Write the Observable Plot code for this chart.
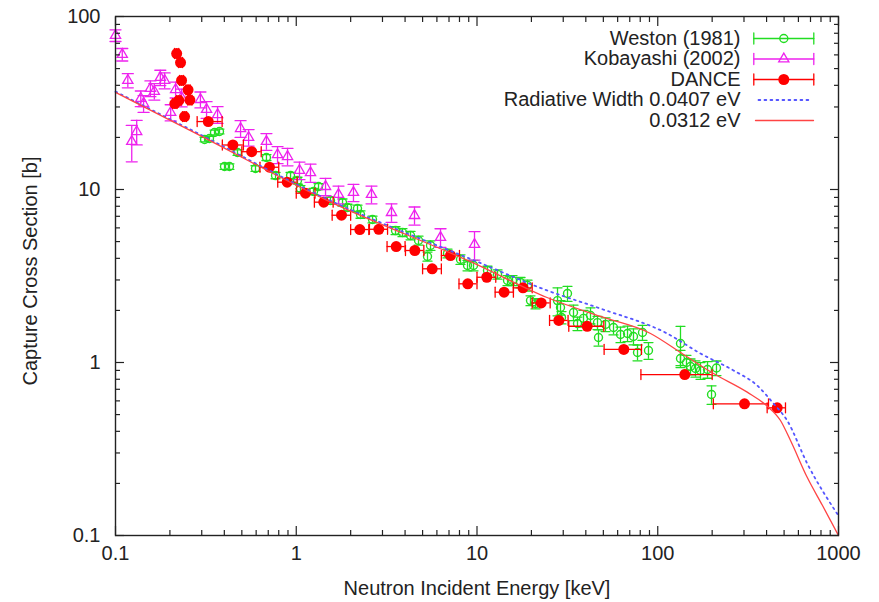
<!DOCTYPE html>
<html>
<head>
<meta charset="utf-8">
<script src="https://cdn.jsdelivr.net/npm/d3@7"></script>
<script src="https://cdn.jsdelivr.net/npm/@observablehq/plot@0.6"></script>
<style>
  html, body { margin: 0; padding: 0; background: #fff; }
  #chart { width: 879px; height: 602px; }
</style>
</head>
<body>
<div id="chart"></div>
<script>
// Axis ticks and labels
const xTickValues = [0.1, 1, 10, 100, 1000];
const xTickLabels = ["0.1", "1", "10", "100", "1000"];
const yTickValues = [0.1, 1, 10, 100];
const yTickLabels = ["0.1", "1", "10", "100"];
const xTitle = "Neutron Incident Energy [keV]";
const yTitle = "Capture Cross Section [b]";

// Weston (1981): energy [keV], cross section [b], 1-sigma error [b]
const westonE = [0.311, 0.331, 0.353, 0.376, 0.401, 0.427, 0.473, 0.595, 0.684, 0.768,
  0.930, 1.016, 1.055, 1.246, 1.328, 1.547, 1.803, 1.921, 2.182, 2.267,
  2.642, 3.541, 3.870, 4.287, 4.747, 5.323, 5.530, 6.867, 8.103, 8.861,
  9.564, 11.43, 12.99, 14.75, 15.72, 17.41, 19.03, 19.77, 21.07, 27.89,
  28.97, 29.34, 31.67, 34.19, 35.97, 38.84, 42.46, 46.42, 47.01, 51.39,
  56.92, 62.23, 68.03, 73.4, 77.27, 82.33, 88.86, 133.6, 133.6, 144.2,
  151.8, 161.8, 172.4, 188.5, 198.4, 211.3];
const westonS = [19.45, 19.71, 21.36, 21.64, 13.58, 13.58, 16.36, 13.22, 15.31, 12.04,
  12.04, 11.27, 10.13, 9.74, 10.40, 8.64, 8.41, 7.87, 7.77, 7.17,
  6.71, 5.79, 5.64, 5.42, 5.07, 4.10, 4.75, 4.27, 3.94, 3.64,
  3.64, 3.40, 3.23, 2.98, 2.98, 2.90, 2.79, 2.28, 2.19, 2.28,
  2.08, 1.82, 2.505, 1.945, 1.68, 1.80, 1.87, 1.70, 1.395, 1.66,
  1.594, 1.452, 1.471, 1.413, 1.142, 1.491, 1.173, 1.288, 1.055, 1.0,
  0.948, 0.923, 0.899, 0.911, 0.653, 0.93];
const westonErr = [0.6, 0.6, 0.7, 0.7, 0.5, 0.5, 0.6, 0.5, 0.6, 0.5,
  0.5, 0.5, 0.4, 0.4, 0.4, 0.4, 0.4, 0.35, 0.35, 0.35,
  0.3, 0.3, 0.3, 0.3, 0.3, 0.25, 0.3, 0.25, 0.25, 0.25,
  0.25, 0.2, 0.2, 0.2, 0.2, 0.2, 0.2, 0.15, 0.15, 0.42,
  0.2, 0.15, 0.25, 0.2, 0.15, 0.2, 0.2, 0.15, 0.15, 0.15,
  0.15, 0.15, 0.15, 0.15, 0.12, 0.15, 0.13, 0.33, 0.12, 0.1,
  0.1, 0.1, 0.1, 0.1, 0.08, 0.09];

// Kobayashi (2002)
const kobE = [0.1, 0.109, 0.117, 0.123, 0.131, 0.138, 0.143, 0.156, 0.164, 0.177,
  0.187, 0.202, 0.215, 0.232, 0.295, 0.319, 0.367, 0.492, 0.545, 0.684,
  0.788, 0.895, 1.042, 1.199, 1.452, 1.713, 2.073, 2.608, 3.365, 4.511,
  6.283, 9.688];
const kobS = [77.7, 60.3, 42.7, 18.95, 21.6, 33.6, 31.4, 38.4, 36.9, 44.4,
  42.7, 27.9, 37.8, 34.0, 33.1, 29.0, 27.1, 22.5, 20.0, 18.95,
  15.9, 15.5, 12.9, 12.5, 10.4, 9.36, 9.61, 9.36, 7.36, 7.07,
  5.28, 4.81];
const kobErr = [6, 5, 4, 4.5, 3.5, 3.5, 3.5, 4, 4, 4.5,
  4.5, 3, 4, 4, 3.5, 3.2, 3, 2.5, 2.2, 2.1,
  1.8, 1.8, 1.5, 1.5, 1.2, 1.1, 1.1, 1.1, 0.9, 0.85,
  0.65, 0.9];

// DANCE: energy, cross section, energy-bin edges
const danceE = [0.213, 0.218, 0.224, 0.229, 0.232, 0.241, 0.252, 0.258, 0.326, 0.446,
  0.567, 0.711, 0.891, 1.125, 1.42, 1.78, 2.247, 2.862, 3.573, 4.529,
  5.65, 7.135, 8.89, 11.33, 14.12, 17.97, 22.66, 28.36, 40.7, 64.9,
  141.1, 302, 458];
const danceS = [31.4, 61.1, 32.7, 54.2, 42.7, 26.4, 37.7, 32.9, 24.7, 18.08,
  16.54, 13.45, 11.02, 9.52, 8.45, 7.10, 5.87, 5.89, 4.68, 4.44,
  3.48, 4.155, 2.85, 3.11, 2.55, 2.70, 2.21, 1.75, 1.62, 1.19,
  0.852, 0.577, 0.547];
const danceLo = [0.207, 0.212, 0.218, 0.223, 0.226, 0.235, 0.245, 0.251, 0.283, 0.39,
  0.50, 0.63, 0.79, 1.0, 1.26, 1.58, 2.0, 2.54, 3.18, 4.02,
  5.0, 6.35, 7.95, 10.0, 12.6, 15.9, 20.2, 25.2, 32.2, 50.5,
  80.7, 203, 403];
const danceHi = [0.219, 0.224, 0.230, 0.235, 0.238, 0.247, 0.259, 0.265, 0.389, 0.51,
  0.64, 0.80, 1.01, 1.27, 1.60, 2.0, 2.52, 3.2, 4.0, 5.08,
  6.35, 8.0, 10.0, 12.7, 15.9, 20.2, 25.4, 31.9, 50.3, 81.3,
  200, 410, 509];

// Calculated capture cross sections for two radiative widths
const calcWideE = [0.1, 0.26, 1.55, 10, 24.4, 48.2, 112.8, 172.4, 262.4, 354.8, 436.5, 520, 671, 1000];
const calcWideS = [36.8, 22.2, 8.6, 3.83, 2.61, 2.05, 1.47, 1.127, 0.9, 0.736, 0.58, 0.462, 0.261, 0.13];
const calcNarrowE = [0.1, 0.26, 1.55, 10, 24.4, 48.2, 91.2, 138.8, 203.4, 312.6, 399.7, 477.5, 542.6, 671, 815.7, 1000];
const calcNarrowS = [36.4, 21.9, 8.45, 3.68, 2.375, 1.845, 1.471, 1.112, 0.864, 0.674, 0.564, 0.462, 0.354, 0.217, 0.149, 0.1];

const legendLabels = ["Weston (1981)", "Kobayashi (2002)", "DANCE", "Radiative Width 0.0407 eV", "0.0312 eV"];

// Styling
const INK = "#222";
const GREEN = "#22dd22";
const MAGENTA = "#ee22ee";
const RED = "#ff0000";
const BLUE = "#5555ff";
const LINE_RED = "#ff4444";
const FONT = "'Liberation Sans', Arial, Helvetica, sans-serif";

const weston = westonE.map((e, i) => ({e, s: westonS[i], lo: westonS[i] - westonErr[i], hi: westonS[i] + westonErr[i]}));
const kobayashi = kobE.map((e, i) => ({e, s: kobS[i], lo: kobS[i] - kobErr[i], hi: kobS[i] + kobErr[i]}));
const dance = danceE.map((e, i) => ({e, s: danceS[i], lo: danceLo[i], hi: danceHi[i]}));
const calcWide = calcWideE.map((e, i) => ({e, s: calcWideS[i]}));
const calcNarrow = calcNarrowE.map((e, i) => ({e, s: calcNarrowS[i]}));

const minorX = [0.1, 1, 10, 100].flatMap(d => [2, 3, 4, 5, 6, 7, 8, 9].map(k => k * d));
const minorY = [0.1, 1, 10].flatMap(d => [2, 3, 4, 5, 6, 7, 8, 9].map(k => k * d));

// plain straight segment used for error-bar caps and legend samples
const segment = {draw(context, l) { context.moveTo(0, 0); context.lineTo(0, -l); }};

// inward ticks on all four sides
function innerTicks(xs, ys, size) {
  const common = {fill: "none", label: null, stroke: INK, strokeWidth: 1.2};
  return [
    Plot.axisX(xs, {...common, anchor: "bottom", tickSize: size, dy: -size}),
    Plot.axisX(xs, {...common, anchor: "top", tickSize: size, dy: size}),
    Plot.axisY(ys, {...common, anchor: "left", tickSize: size, dx: size}),
    Plot.axisY(ys, {...common, anchor: "right", tickSize: size, dx: -size})
  ];
}

function vBars(data, color, capWidth) {
  return [
    Plot.ruleX(data, {x: "e", y1: "lo", y2: "hi", stroke: color, strokeWidth: 1.3}),
    Plot.vector(data, {x: "e", y: "lo", length: capWidth, rotate: 90, anchor: "middle", shape: segment, stroke: color, strokeWidth: 1.3}),
    Plot.vector(data, {x: "e", y: "hi", length: capWidth, rotate: 90, anchor: "middle", shape: segment, stroke: color, strokeWidth: 1.3})
  ];
}

// legend rows (anchored to the top-right corner of the frame)
const rowDy = i => 22 + 20.5 * i;
const textDx = -98, sampleDx = -54.7, capL = -84.7, capR = -24.7;
function legendRow(i, color, marker) {
  const dy = rowDy(i);
  const marks = [
    Plot.text([legendLabels[i]], {frameAnchor: "top-right", dx: textDx, dy, textAnchor: "end", lineAnchor: "middle", fill: INK, fontSize: 20})
  ];
  if (marker) {
    marks.push(
      Plot.vector([0], {frameAnchor: "top-right", dx: sampleDx, dy, length: 60, rotate: 90, anchor: "middle", shape: segment, stroke: color, strokeWidth: 1.3}),
      Plot.vector([0], {frameAnchor: "top-right", dx: capL, dy, length: 11, rotate: 0, anchor: "middle", shape: segment, stroke: color, strokeWidth: 1.3}),
      Plot.vector([0], {frameAnchor: "top-right", dx: capR, dy, length: 11, rotate: 0, anchor: "middle", shape: segment, stroke: color, strokeWidth: 1.3}),
      Plot.dot([0], {frameAnchor: "top-right", dx: sampleDx, dy, ...marker})
    );
  }
  return marks;
}

const chart = Plot.plot({
  width: 879,
  height: 602,
  marginLeft: 115,
  marginRight: 41,
  marginTop: 16,
  marginBottom: 67,
  x: {type: "log", domain: [0.1, 1000], label: null},
  y: {type: "log", domain: [0.1, 100], label: null},
  style: {fontFamily: FONT, fontSize: "20px", color: INK, background: "#fff", overflow: "visible"},
  marks: [
    // Weston
    ...vBars(weston, GREEN, 9),
    Plot.dot(weston, {x: "e", y: "s", r: 4, stroke: GREEN, strokeWidth: 1.4, fill: "none"}),
    // Kobayashi
    ...vBars(kobayashi, MAGENTA, 11),
    Plot.dot(kobayashi, {x: "e", y: "s", r: 3.8, symbol: "triangle", stroke: MAGENTA, strokeWidth: 1.3, fill: "none"}),
    // DANCE
    Plot.ruleY(dance, {y: "s", x1: "lo", x2: "hi", stroke: RED, strokeWidth: 1.3}),
    Plot.vector(dance, {x: "lo", y: "s", length: 10, rotate: 0, anchor: "middle", shape: segment, stroke: RED, strokeWidth: 1.3}),
    Plot.vector(dance, {x: "hi", y: "s", length: 10, rotate: 0, anchor: "middle", shape: segment, stroke: RED, strokeWidth: 1.3}),
    Plot.dot(dance, {x: "e", y: "s", r: 5.5, fill: RED}),
    // calculations
    Plot.line(calcWide, {x: "e", y: "s", stroke: BLUE, strokeWidth: 1.8, strokeDasharray: "1.8 4.2", curve: "monotone-x"}),
    Plot.line(calcNarrow, {x: "e", y: "s", stroke: LINE_RED, strokeWidth: 1.3, curve: "monotone-x"}),
    // frame and axes
    Plot.frame({stroke: INK, strokeWidth: 1.4}),
    ...innerTicks(xTickValues, yTickValues, 9),
    ...innerTicks(minorX, minorY, 5),
    Plot.axisX(xTickValues, {anchor: "bottom", tickSize: 0, tickPadding: 10, label: null, fill: INK, fontSize: 20,
      tickFormat: d => xTickLabels[xTickValues.indexOf(d)]}),
    Plot.axisY(yTickValues, {anchor: "left", tickSize: 0, tickPadding: 15, label: null, fill: INK, fontSize: 20,
      tickFormat: d => yTickLabels[yTickValues.indexOf(d)]}),
    Plot.text([xTitle], {frameAnchor: "bottom", dy: 53, textAnchor: "middle", lineAnchor: "middle", fill: INK, fontSize: 20}),
    Plot.text([yTitle], {frameAnchor: "left", dx: -85, dy: -5, rotate: -90, textAnchor: "middle", lineAnchor: "middle", fill: INK, fontSize: 20}),
    // legend
    ...legendRow(0, GREEN, {r: 4, stroke: GREEN, strokeWidth: 1.4, fill: "none"}),
    ...legendRow(1, MAGENTA, {r: 3.8, symbol: "triangle", stroke: MAGENTA, strokeWidth: 1.3, fill: "none"}),
    ...legendRow(2, RED, {r: 5.5, fill: RED}),
    ...legendRow(3, null, null),
    Plot.vector([0], {frameAnchor: "top-right", dx: -54, dy: rowDy(3), length: 52, rotate: 90, anchor: "middle", shape: segment, stroke: BLUE, strokeWidth: 1.8, strokeDasharray: "1.8 4.2"}),
    ...legendRow(4, null, null),
    Plot.vector([0], {frameAnchor: "top-right", dx: -54, dy: rowDy(4), length: 58, rotate: 90, anchor: "middle", shape: segment, stroke: LINE_RED, strokeWidth: 1.3})
  ]
});

document.getElementById("chart").append(chart);
</script>
</body>
</html>
